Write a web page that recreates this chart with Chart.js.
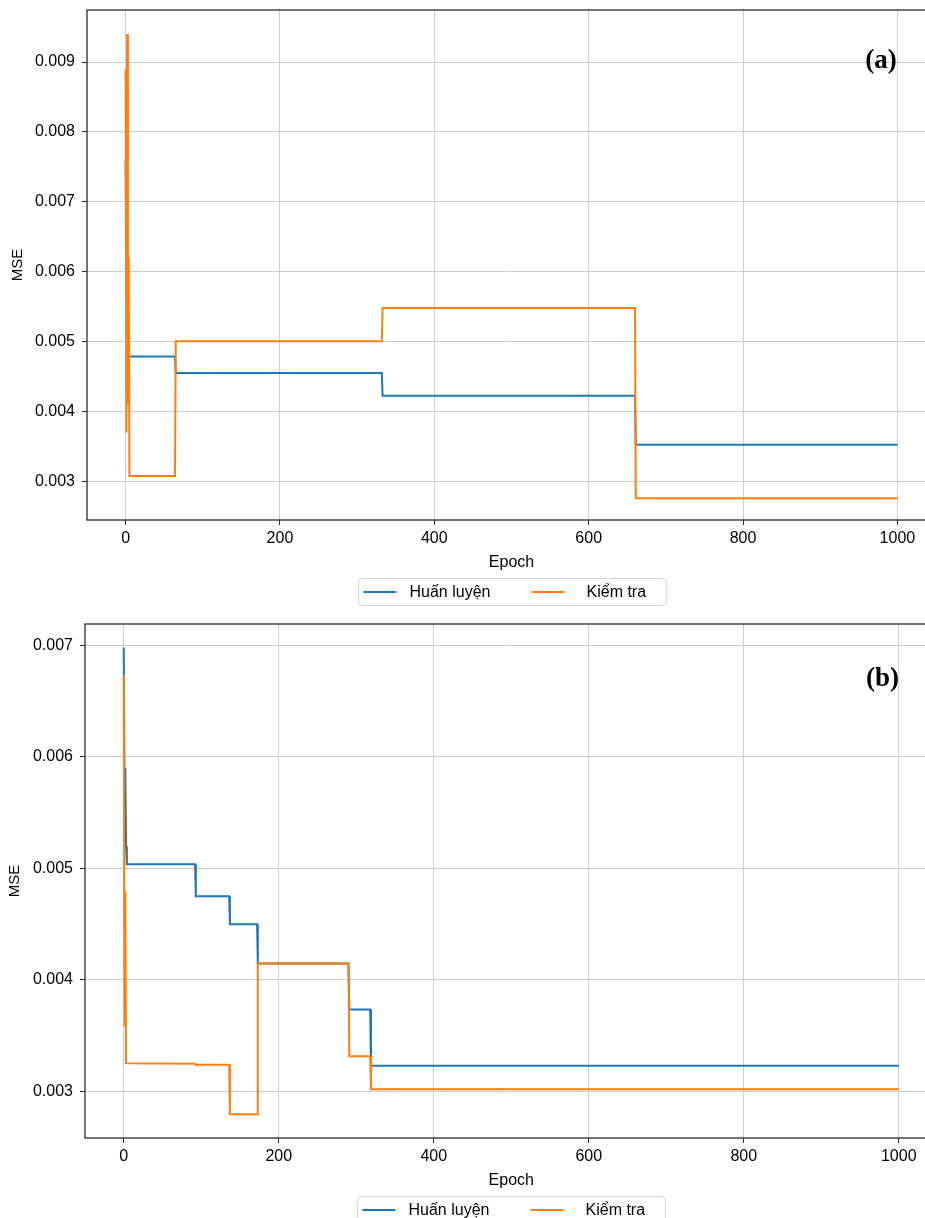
<!DOCTYPE html>
<html>
<head>
<meta charset="utf-8">
<script src="https://cdn.jsdelivr.net/npm/chart.js@4.4.1/dist/chart.umd.min.js"></script>
<style>
  html, body { margin: 0; padding: 0; background: #fff; overflow: hidden; }
  canvas { display: block; }
</style>
</head>
<body>
<canvas id="chartA" width="940" height="612"></canvas>
<canvas id="chartB" width="940" height="640"></canvas>
<script>
// shared axis
const xTicks = [0, 200, 400, 600, 800, 1000];
const xMin = -50, xMax = 1050;
const seriesLabels = ['Huấn luyện', 'Kiểm tra'];

// panel (a)
const epochsTrainA = [0, 1, 2, 3, 4, 5, 64, 65, 332, 333, 660, 661, 1000];
const trainA = [0.0076, 0.0062, 0.0053, 0.0049, 0.00481, 0.00479, 0.00479, 0.004553, 0.004553, 0.004228, 0.004228, 0.003526, 0.003526];
const epochsTestA = [0, 1, 2, 3, 4, 5, 64, 65, 332, 333, 660, 661, 1000];
const testA = [0.0089, 0.0037, 0.0094, 0.0041, 0.0062, 0.00308, 0.00308, 0.005006, 0.005006, 0.005484, 0.005484, 0.002762, 0.002762];
const yTicksA = [0.003, 0.004, 0.005, 0.006, 0.007, 0.008, 0.009];
const yMinA = 0.00245, yMaxA = 0.009745;

// panel (b)
const epochsTrainB = [0, 1, 2, 3, 4, 92, 93, 136, 137, 172, 173, 290, 291, 318, 319, 1000];
const trainB = [0.00698, 0.0058, 0.0059, 0.0052, 0.005036, 0.005036, 0.004749, 0.004749, 0.004498, 0.004498, 0.004145, 0.004145, 0.003733, 0.003733, 0.003227, 0.003227];
const epochsTestB = [0, 1, 2, 3, 92, 93, 136, 137, 172, 173, 290, 291, 318, 319, 1000];
const testB = [0.00673, 0.00358, 0.00479, 0.00325, 0.003247, 0.003238, 0.003238, 0.002794, 0.002794, 0.004145, 0.004145, 0.003314, 0.003314, 0.003018, 0.003018];
const yTicksB = [0.003, 0.004, 0.005, 0.006, 0.007];
const yMinB = 0.00258, yMaxB = 0.00719;

const BLUE = '#1f77b4', ORANGE = '#ff7f0e';
const FONT = '"Liberation Sans", Arial, sans-serif';
Chart.defaults.font.family = FONT;
Chart.defaults.color = '#000';

function toPoints(xs, ys) {
  return xs.map((x, i) => ({ x, y: ys[i] }));
}

// box around the plot area (matplotlib spines)
const framePlugin = {
  id: 'frame',
  afterDatasetsDraw(chart) {
    const { ctx, chartArea: a } = chart;
    ctx.save();
    ctx.strokeStyle = '#2b2b2b';
    ctx.lineWidth = 1.3;
    ctx.strokeRect(a.left, a.top, a.right - a.left, a.bottom - a.top);
    ctx.restore();
  }
};

// matplotlib-like legend under the axis
const boxLegend = {
  id: 'boxLegend',
  afterDraw(chart, args, opts) {
    const { ctx, chartArea: a } = chart;
    const w = 308, h = 27;
    const left = Math.round((a.left + a.right) / 2 - w / 2) + 0.5;
    const top = Math.round(a.bottom + opts.dy) + 0.5;
    const r = 4;
    ctx.save();
    ctx.beginPath();
    ctx.moveTo(left + r, top);
    ctx.lineTo(left + w - r, top);
    ctx.arcTo(left + w, top, left + w, top + r, r);
    ctx.lineTo(left + w, top + h - r);
    ctx.arcTo(left + w, top + h, left + w - r, top + h, r);
    ctx.lineTo(left + r, top + h);
    ctx.arcTo(left, top + h, left, top + h - r, r);
    ctx.lineTo(left, top + r);
    ctx.arcTo(left, top, left + r, top, r);
    ctx.closePath();
    ctx.fillStyle = '#fff';
    ctx.fill();
    ctx.strokeStyle = '#d6d6d6';
    ctx.lineWidth = 1;
    ctx.stroke();

    const cy = top + h / 2;
    const items = [
      { lineX: 5, textX: 51 },
      { lineX: 173, textX: 228 }
    ];
    ctx.font = '16px ' + FONT;
    ctx.textBaseline = 'middle';
    ctx.textAlign = 'left';
    chart.data.datasets.forEach((ds, i) => {
      const it = items[i];
      ctx.strokeStyle = ds.borderColor;
      ctx.lineWidth = 2;
      ctx.beginPath();
      ctx.moveTo(left + it.lineX, cy);
      ctx.lineTo(left + it.lineX + 33, cy);
      ctx.stroke();
      ctx.fillStyle = '#000';
      ctx.fillText(ds.label, left + it.textX, cy + 1);
    });
    ctx.restore();
  }
};

// (a) / (b) tag in the top right corner
const panelTag = {
  id: 'panelTag',
  afterDraw(chart, args, opts) {
    const { ctx, chartArea: a } = chart;
    ctx.save();
    ctx.font = 'bold 27px "Liberation Serif", "Times New Roman", serif';
    ctx.fillStyle = '#000';
    ctx.textAlign = 'center';
    ctx.textBaseline = 'middle';
    ctx.fillText(opts.text, a.right - opts.dx, a.top + opts.dy);
    ctx.restore();
  }
};

function makeChart(id, cfg) {
  return new Chart(document.getElementById(id), {
    type: 'line',
    data: {
      datasets: [
        { label: seriesLabels[0], data: toPoints(cfg.trainX, cfg.trainY), borderColor: BLUE, order: 2 },
        { label: seriesLabels[1], data: toPoints(cfg.testX, cfg.testY), borderColor: ORANGE, order: 1 }
      ]
    },
    options: {
      responsive: false,
      animation: false,
      events: [],
      parsing: false,
      elements: {
        line: { borderWidth: 2, tension: 0, fill: false },
        point: { radius: 0 }
      },
      layout: { padding: cfg.pad },
      plugins: {
        legend: { display: false },
        tooltip: { enabled: false },
        boxLegend: { dy: cfg.legendDy },
        panelTag: { text: cfg.tag, dx: cfg.tagDx, dy: cfg.tagDy }
      },
      scales: {
        x: {
          type: 'linear',
          min: xMin,
          max: xMax,
          afterBuildTicks: s => { s.ticks = xTicks.map(v => ({ value: v })); },
          afterFit: s => { s.height = 52; s.paddingLeft = 0; s.paddingRight = 0; },
          ticks: { autoSkip: false, maxRotation: 0, padding: cfg.xTickPad, font: { size: 16 }, color: '#000', callback: v => String(v) },
          grid: { color: '#cdcdcd', lineWidth: 1, tickLength: 5, tickColor: '#2b2b2b' },
          border: { display: false },
          title: { display: true, text: 'Epoch', font: { size: 16 }, color: '#000', padding: { top: 0, bottom: cfg.xTitlePad } }
        },
        y: {
          type: 'linear',
          min: cfg.yMin,
          max: cfg.yMax,
          afterBuildTicks: s => { s.ticks = cfg.yTicks.map(v => ({ value: v })); },
          afterFit: s => { s.width = cfg.yWidth; s.paddingTop = 0; s.paddingBottom = 0; },
          ticks: { autoSkip: false, padding: 7, font: { size: 16 }, color: '#000', callback: v => v.toFixed(3) },
          grid: { color: '#cdcdcd', lineWidth: 1, tickLength: 5, tickColor: '#2b2b2b' },
          border: { display: false },
          title: { display: true, text: 'MSE', font: { size: 15 }, color: '#000', padding: { top: cfg.yTitlePad, bottom: 0 } }
        }
      }
    },
    plugins: [framePlugin, boxLegend, panelTag]
  });
}

makeChart('chartA', {
  trainX: epochsTrainA, trainY: trainA, testX: epochsTestA, testY: testA,
  yTicks: yTicksA, yMin: yMinA, yMax: yMaxA,
  yWidth: 87, yTitlePad: 9, xTickPad: 4, xTitlePad: 0,
  pad: { top: 10, left: 0, right: 4, bottom: 40 },
  legendDy: 58, tag: '(a)', tagDx: 55, tagDy: 51
});

makeChart('chartB', {
  trainX: epochsTrainB, trainY: trainB, testX: epochsTestB, testY: testB,
  yTicks: yTicksB, yMin: yMinB, yMax: yMaxB,
  yWidth: 85, yTitlePad: 6, xTickPad: 4, xTitlePad: 0,
  pad: { top: 12, left: 0, right: 2.5, bottom: 62 },
  legendDy: 58, tag: '(b)', tagDx: 55, tagDy: 55
});
</script>
</body>
</html>
